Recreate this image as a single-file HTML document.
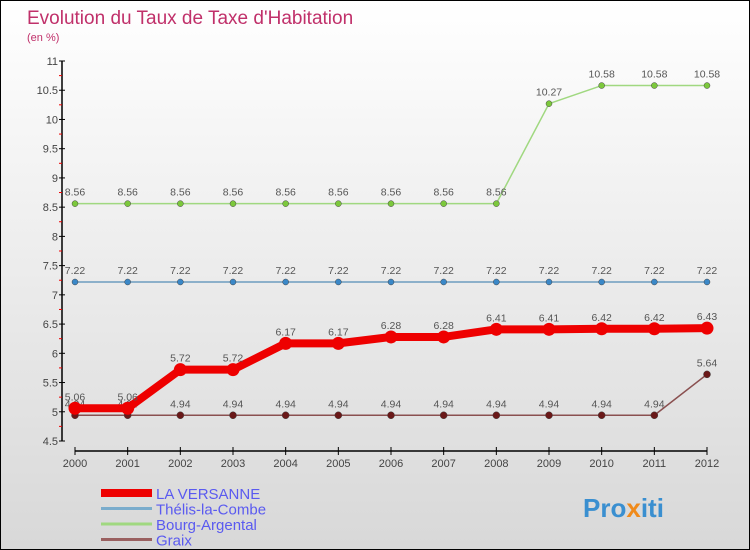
<!DOCTYPE html>
<html><head><meta charset="utf-8"><style>
body{margin:0}
#c{width:748px;height:548px;border:1px solid #000;background:linear-gradient(#fff,#d8d8d8);position:relative;overflow:hidden;font-family:"Liberation Sans",sans-serif}
svg text{font-family:"Liberation Sans",sans-serif}
</style></head><body>
<div id="c">
<svg id="s" width="748" height="548">
<text x="26" y="23" font-size="19" fill="#c0306a">Evolution du Taux de Taxe d'Habitation</text>
<text x="26" y="40" font-size="11" fill="#c0306a">(en %)</text>
<g id="g"></g>
<text x="582" y="516" font-size="26" font-weight="bold" fill="#3a8fd0">Pro<tspan fill="#f08a1a">x</tspan>iti</text>
</svg>
</div>
<script>
const years=[2000,2001,2002,2003,2004,2005,2006,2007,2008,2009,2010,2011,2012];
const yTicks=[4.5,5,5.5,6,6.5,7,7.5,8,8.5,9,9.5,10,10.5,11];
const versanne=[5.06,5.06,5.72,5.72,6.17,6.17,6.28,6.28,6.41,6.41,6.42,6.42,6.43];
const thelis=[7.22,7.22,7.22,7.22,7.22,7.22,7.22,7.22,7.22,7.22,7.22,7.22,7.22];
const bourg=[8.56,8.56,8.56,8.56,8.56,8.56,8.56,8.56,8.56,10.27,10.58,10.58,10.58];
const graix=[4.94,4.94,4.94,4.94,4.94,4.94,4.94,4.94,4.94,4.94,4.94,4.94,5.64];
const NS='http://www.w3.org/2000/svg',g=document.getElementById('g');
const X=i=>74+i*(706-74)/12, Y=v=>440-(v-4.5)*380/6.5;
function mk(t,a,p){const e=document.createElementNS(NS,t);for(const k in a)e.setAttribute(k,a[k]);(p||g).appendChild(e);return e;}
let ax=mk('line',{x1:61,y1:60,x2:61,y2:440,stroke:'#000','stroke-width':1.5});


yTicks.forEach((v,k)=>{mk('line',{x1:58,x2:64,y1:Y(v),y2:Y(v),stroke:'#000'});
 if(k>0)mk('line',{x1:58,x2:61,y1:Y(v)+14.6,y2:Y(v)+14.6,stroke:'#e00'});
 const t=mk('text',{x:57,y:Y(v)+4,'font-size':11,fill:'#444','text-anchor':'end'});t.textContent=v;
 
 });
let xa=mk('line',{x1:74,y1:450,x2:706,y2:450,stroke:'#000','stroke-width':1.5});


years.forEach((y,i)=>{mk('line',{x1:X(i),x2:X(i),y1:446,y2:454,stroke:'#000'});
 const t=mk('text',{x:X(i),y:466,'font-size':11,fill:'#444','text-anchor':'middle'});t.textContent=y;
 
 });
function series(d,col,w,r,name,dot){
 const p=mk('polyline',{points:d.map((v,i)=>X(i)+','+Y(v)).join(' '),fill:'none',stroke:col,'stroke-width':w,'stroke-linejoin':'round'});
 
 
 d.forEach((v,i)=>{const c=mk('circle',{cx:X(i),cy:Y(v),r:r,fill:dot,stroke:'#444','stroke-width':r>5?0:0.5});
  
  
  const t=mk('text',{x:X(i),y:Y(v)-8,'font-size':10.5,fill:'#555','text-anchor':'middle'});t.textContent=v;
  
  });
}
series(bourg,'#a0d880',1.5,3,'bourg-argental','#7cc83c');
series(thelis,'#6c9cc0',1.5,3,'thelis-la-combe','#3a88c8');
series(graix,'#8a5050',1.5,3.5,'graix','#6a1818');
series(versanne,'#ee0000',8,6.5,'la-versanne','#ee0000');
const leg=[['LA VERSANNE','#ee0000',8],['Thélis-la-Combe','#7aaccc',3],['Bourg-Argental','#a0d880',3],['Graix','#9a6060',3]];
leg.forEach((l,i)=>{const y=492+i*15.5;
 const ln=mk('line',{x1:100,x2:151,y1:y,y2:y,stroke:l[1],'stroke-width':l[2]});
 
 
 const t=mk('text',{x:155,y:y+6,'font-size':15,fill:'#5a5af0'});t.textContent=l[0];
 
 });
</script>
</body></html>
